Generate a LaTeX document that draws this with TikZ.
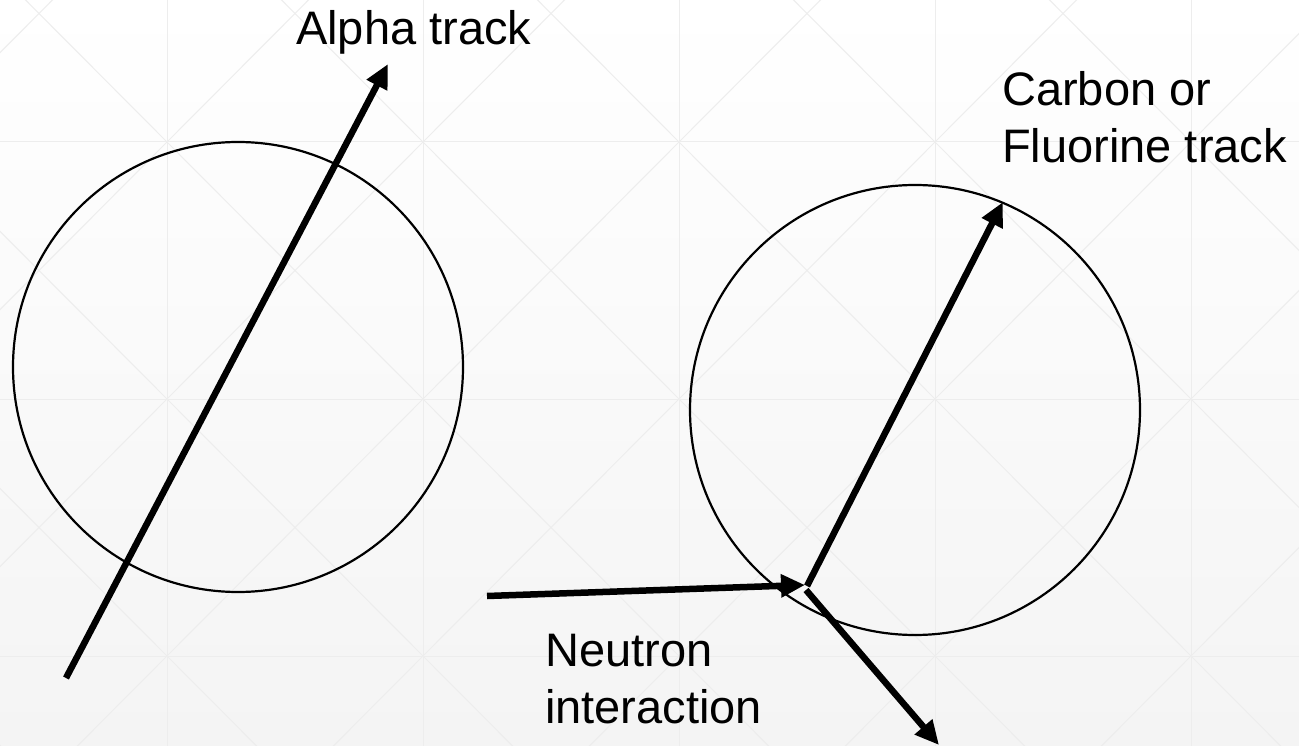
\documentclass[tikz,border=0pt]{standalone}
\usepackage{fontspec}
\setmainfont{Liberation Sans}
\usetikzlibrary{arrows.meta}
\definecolor{gridc}{HTML}{EDEDED}
\definecolor{bgbot}{HTML}{F4F4F4}
\begin{document}
\begin{tikzpicture}[x=1pt,y=-1pt,
  ring/.style={draw=black, line width=2.2pt, circle, minimum size=450pt, inner sep=0pt, outer sep=0pt},
  track/.style={line width=6.5pt, -{Triangle[length=24pt,width=22pt]}},
  gridline/.style={draw=gridc, line width=1pt},
  lbl/.style={inner sep=0pt, font=\fontsize{47}{57}\selectfont, align=left}]
\useasboundingbox (0,0) rectangle (1299,746);
\shade[top color=white, bottom color=bgbot] (0,0) rectangle (1299,746);
\begin{scope}
  \clip (0,0) rectangle (1299,746);
  \foreach \x in {167,423,679,935,1191} \draw[gridline] (\x,0) -- (\x,746);
  \foreach \y in {142,399,656} \draw[gridline] (0,\y) -- (1299,\y);
  \foreach \i in {-1,...,5} {
    \foreach \j in {-1,...,3} {
      \draw[gridline] ({167+256*\i},{142+257*\j}) -- ++(256,257);
      \draw[gridline] ({167+256*\i},{142+257*\j}) -- ++(256,-257);
    }
  }
\end{scope}
% circles
\node[ring] (left) at (238,367) {};
\node[ring] (right) at (915,410) {};
% alpha track
\coordinate (atail) at (66,678);
\coordinate (atip) at (388,64);
\draw[track] (atail) -- (atip);
% neutron interaction
\coordinate (ntail) at (487,596);
\coordinate (nv) at (805,585);
\coordinate (cstart) at (807,586);
\coordinate (ctip) at (1003,202);
\coordinate (lstart) at (806,590);
\coordinate (ltip) at (939,745);
\draw[track] (ntail) -- (nv);
\draw[track] (cstart) -- (ctip);
\draw[track] (lstart) -- (ltip);
% labels
\node[lbl, anchor=base west] (alpha) at (296,45) {Alpha track};
\node[lbl, anchor=north west] (carbon) at (1002,71) {Carbon or\\Fluorine track};
\node[lbl, anchor=north west] (neutron) at (545,634) {Neutron\\interaction};
\end{tikzpicture}
\end{document}
